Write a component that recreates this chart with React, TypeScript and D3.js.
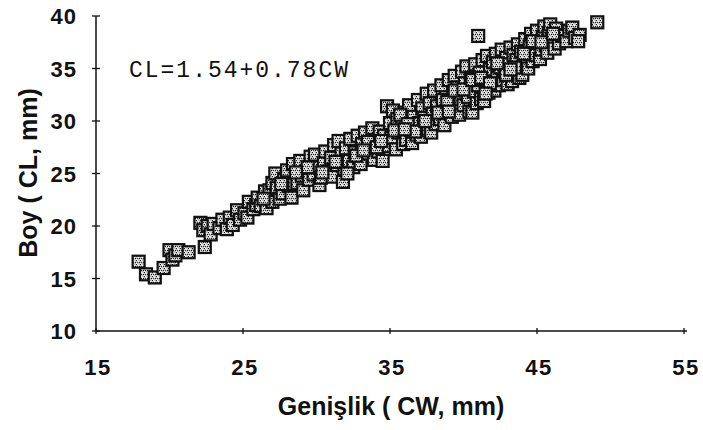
import React from "react";
import * as d3 from "d3";

const xTicks = [15, 25, 35, 45, 55];
const yTicks = [10, 15, 20, 25, 30, 35, 40];

// Carapace width (CW, mm) of each specimen
const cw = [
  17.9, 18.4, 19.0, 19.6, 20.0, 20.2, 20.4, 20.6, 21.3, 22.1, 22.3, 22.4, 22.6, 22.8, 23.0, 23.4, 23.6, 23.9,
  24.1, 24.3, 24.6, 24.8, 25.1, 25.3, 25.4, 25.7, 25.9, 26.0, 26.2, 26.5, 26.6, 26.8, 27.0, 27.0, 27.2, 27.3,
  27.5, 27.7, 27.8, 28.0, 28.1, 28.3, 28.4, 28.5, 28.7, 28.9, 29.0, 29.1, 29.3, 29.5, 29.6, 29.8, 29.9, 30.1,
  30.2, 30.3, 30.5, 30.6, 30.8, 31.0, 31.1, 31.2, 31.4, 31.5, 31.7, 31.8, 31.9, 32.0, 32.2, 32.3, 32.5, 32.6,
  32.8, 32.9, 33.0, 33.1, 33.3, 33.4, 33.6, 33.8, 33.9, 34.0, 34.2, 34.3, 34.5, 34.6, 34.8, 34.9, 35.0, 35.1,
  35.2, 35.4, 35.5, 35.6, 35.8, 35.9, 36.0, 36.1, 36.3, 36.4, 36.5, 36.6, 36.8, 36.9, 37.0, 37.1, 37.2, 37.3,
  37.5, 37.6, 37.7, 37.8, 37.9, 38.0, 38.1, 38.2, 38.4, 38.5, 38.6, 38.7, 38.8, 39.0, 39.1, 39.2, 39.3, 39.4,
  39.5, 39.6, 39.7, 39.8, 39.9, 40.0, 40.1, 40.2, 40.3, 40.4, 40.5, 40.6, 40.7, 40.8, 40.9, 41.0, 41.0, 41.1,
  41.2, 41.3, 41.4, 41.5, 41.6, 41.7, 41.8, 41.9, 42.0, 42.1, 42.2, 42.3, 42.4, 42.5, 42.6, 42.7, 42.8, 42.9,
  43.0, 43.1, 43.2, 43.3, 43.4, 43.5, 43.6, 43.7, 43.8, 43.9, 44.0, 44.1, 44.2, 44.3, 44.4, 44.5, 44.6, 44.7,
  44.8, 44.9, 45.0, 45.1, 45.2, 45.3, 45.4, 45.5, 45.6, 45.7, 45.8, 45.9, 46.0, 46.2, 46.3, 46.5, 46.7, 47.0,
  47.2, 47.4, 47.6, 47.9, 47.8, 49.1,
  30.4, 31.3, 32.1, 32.7, 33.5, 34.1, 34.4, 35.3, 35.7, 36.2, 36.7, 37.4, 38.3, 38.9, 39.4, 40.0, 40.6, 41.2,
  41.8, 42.3, 42.9, 43.5, 44.1, 44.7, 45.3, 46.1, 29.4, 28.6, 27.6, 26.4, 33.2, 36.0, 39.0, 41.5, 43.2,
];

// Carapace length (CL, mm) of each specimen
const cl = [
  16.6, 15.4, 15.1, 16.0, 17.7, 16.8, 17.2, 17.7, 17.5, 20.3, 19.6, 18.0, 20.0, 19.2, 20.2, 19.8, 20.6, 19.7,
  20.8, 20.1, 21.5, 20.6, 21.2, 20.8, 22.3, 21.6, 22.0, 22.7, 21.9, 23.3, 21.7, 23.4, 22.3, 24.1, 25.0, 23.6,
  22.6, 23.1, 24.5, 25.3, 23.8, 22.7, 25.9, 24.0, 24.1, 26.2, 24.8, 23.4, 25.2, 24.4, 26.6, 24.9, 26.8, 25.6,
  23.9, 24.6, 26.0, 27.1, 25.2, 26.5, 24.7, 27.7, 25.8, 28.1, 26.9, 24.2, 25.4, 27.4, 26.2, 28.3, 25.6, 27.0,
  28.6, 26.5, 25.9, 27.8, 28.9, 26.9, 27.5, 29.3, 26.3, 28.2, 27.1, 29.0, 26.2, 28.6, 31.4, 27.6, 29.8, 28.4,
  31.0, 27.3, 30.2, 28.9, 29.5, 27.8, 30.8, 28.2, 31.5, 29.3, 27.9, 30.4, 28.7, 32.0, 29.8, 28.5, 31.2, 30.3,
  32.6, 29.1, 31.7, 28.9, 30.7, 32.9, 29.7, 31.4, 30.2, 33.4, 32.0, 29.6, 30.9, 33.9, 31.6, 30.4, 32.6, 34.3,
  31.1, 33.2, 30.6, 32.1, 34.7, 31.5, 33.6, 35.2, 32.3, 30.9, 34.1, 30.8, 32.8, 35.4, 31.7, 38.1, 33.4, 34.6,
  32.1, 35.8, 31.9, 33.9, 36.2, 32.7, 34.9, 33.2, 35.6, 32.9, 36.4, 34.2, 33.4, 35.1, 36.8, 33.9, 34.7, 36.0,
  33.5, 35.4, 37.0, 33.8, 36.3, 34.5, 35.8, 37.3, 34.1, 36.6, 34.4, 35.6, 37.8, 36.1, 35.0, 37.1, 38.3, 35.7,
  36.8, 36.3, 38.6, 37.5, 35.9, 36.8, 38.0, 39.0, 37.2, 36.5, 38.4, 39.2, 37.8, 36.9, 38.8, 37.4, 38.1, 37.6,
  38.6, 38.9, 37.9, 38.2, 37.6, 39.4,
  25.1, 26.1, 25.0, 26.7, 28.0, 27.5, 28.1, 29.1, 30.6, 29.7, 29.0, 30.0, 30.8, 31.8, 32.9, 33.0, 33.9, 34.1,
  33.6, 35.5, 34.4, 35.1, 36.4, 37.6, 37.5, 38.3, 25.6, 25.1, 24.0, 22.6, 27.2, 29.2, 30.9, 32.6, 34.9,
];

const equation = "CL=1.54+0.78CW";
const xTitle = "Genişlik ( CW, mm)";
const yTitle = "Boy ( CL, mm)";

const W = 703;
const H = 430;
const x = d3.scaleLinear().domain([15, 55]).range([96, 684]);
const y = d3.scaleLinear().domain([10, 40]).range([331, 16]);

const sans = "'Liberation Sans', Arial, Helvetica, sans-serif";
const S = 12;

export default function App() {
  const pts = cw.map((v, i) => [v, cl[i]] as [number, number]);
  return (
    <svg
      width={W}
      height={H}
      viewBox={`0 0 ${W} ${H}`}
      style={{ position: "fixed", left: 0, top: 0, background: "#fff" }}
    >
      <defs>
        <pattern id="speck" width="4" height="4" patternUnits="userSpaceOnUse">
          <rect width="4" height="4" fill="#c4c4c4" />
          <rect x="0" y="0" width="1" height="1" fill="#111" />
          <rect x="1" y="0" width="1" height="1" fill="#fff" />
          <rect x="2" y="1" width="1" height="1" fill="#fff" />
          <rect x="3" y="2" width="1" height="1" fill="#111" />
          <rect x="1" y="2" width="1" height="1" fill="#333" />
          <rect x="0" y="3" width="1" height="1" fill="#fff" />
        </pattern>
      </defs>
      <rect width={W} height={H} fill="#fff" />

      {/* points */}
      <g>
        {pts.map(([a, b], i) => (
          <rect
            key={i}
            x={x(a) - S / 2}
            y={y(b) - S / 2}
            width={S}
            height={S}
            fill="url(#speck)"
            stroke="#111"
            strokeWidth={2.2}
          />
        ))}
      </g>

      {/* axes */}
      <line x1={x(15)} x2={x(15)} y1={y(40)} y2={y(10)} stroke="#111" strokeWidth={1.5} />
      <line x1={x(15)} x2={x(55) + 3} y1={y(10)} y2={y(10)} stroke="#111" strokeWidth={1.5} />
      {yTicks.map((t) => (
        <g key={"y" + t}>
          <line x1={x(15) - 4} x2={x(15) + 4} y1={y(t)} y2={y(t)} stroke="#111" strokeWidth={1.3} />
          <text
            x={77}
            y={y(t) + 8}
            textAnchor="end"
            fontFamily={sans}
            fontWeight="bold"
            fontSize={22}
            letterSpacing={1}
            fill="#111"
          >
            {t}
          </text>
        </g>
      ))}
      {xTicks.map((t) => (
        <g key={"x" + t}>
          <line x1={x(t)} x2={x(t)} y1={y(10) - 3} y2={y(10) + 3} stroke="#111" strokeWidth={1.3} />
          <text
            x={x(t) + 2}
            y={375}
            textAnchor="middle"
            fontFamily={sans}
            fontWeight="bold"
            fontSize={22}
            letterSpacing={1.5}
            fill="#111"
          >
            {t}
          </text>
        </g>
      ))}

      <text
        x={129}
        y={77}
        fontFamily="'Liberation Mono', 'Courier New', monospace"
        fontSize={23}
        textLength={219}
        lengthAdjust="spacing"
        fill="#111"
      >
        {equation}
      </text>

      <text
        x={391}
        y={415}
        textAnchor="middle"
        fontFamily={sans}
        fontWeight="bold"
        fontSize={25}
        fill="#111"
      >
        {xTitle}
      </text>
      <text
        transform="translate(37,173) rotate(-90)"
        textAnchor="middle"
        fontFamily={sans}
        fontWeight="bold"
        fontSize={25}
        fill="#111"
      >
        {yTitle}
      </text>
    </svg>
  );
}
